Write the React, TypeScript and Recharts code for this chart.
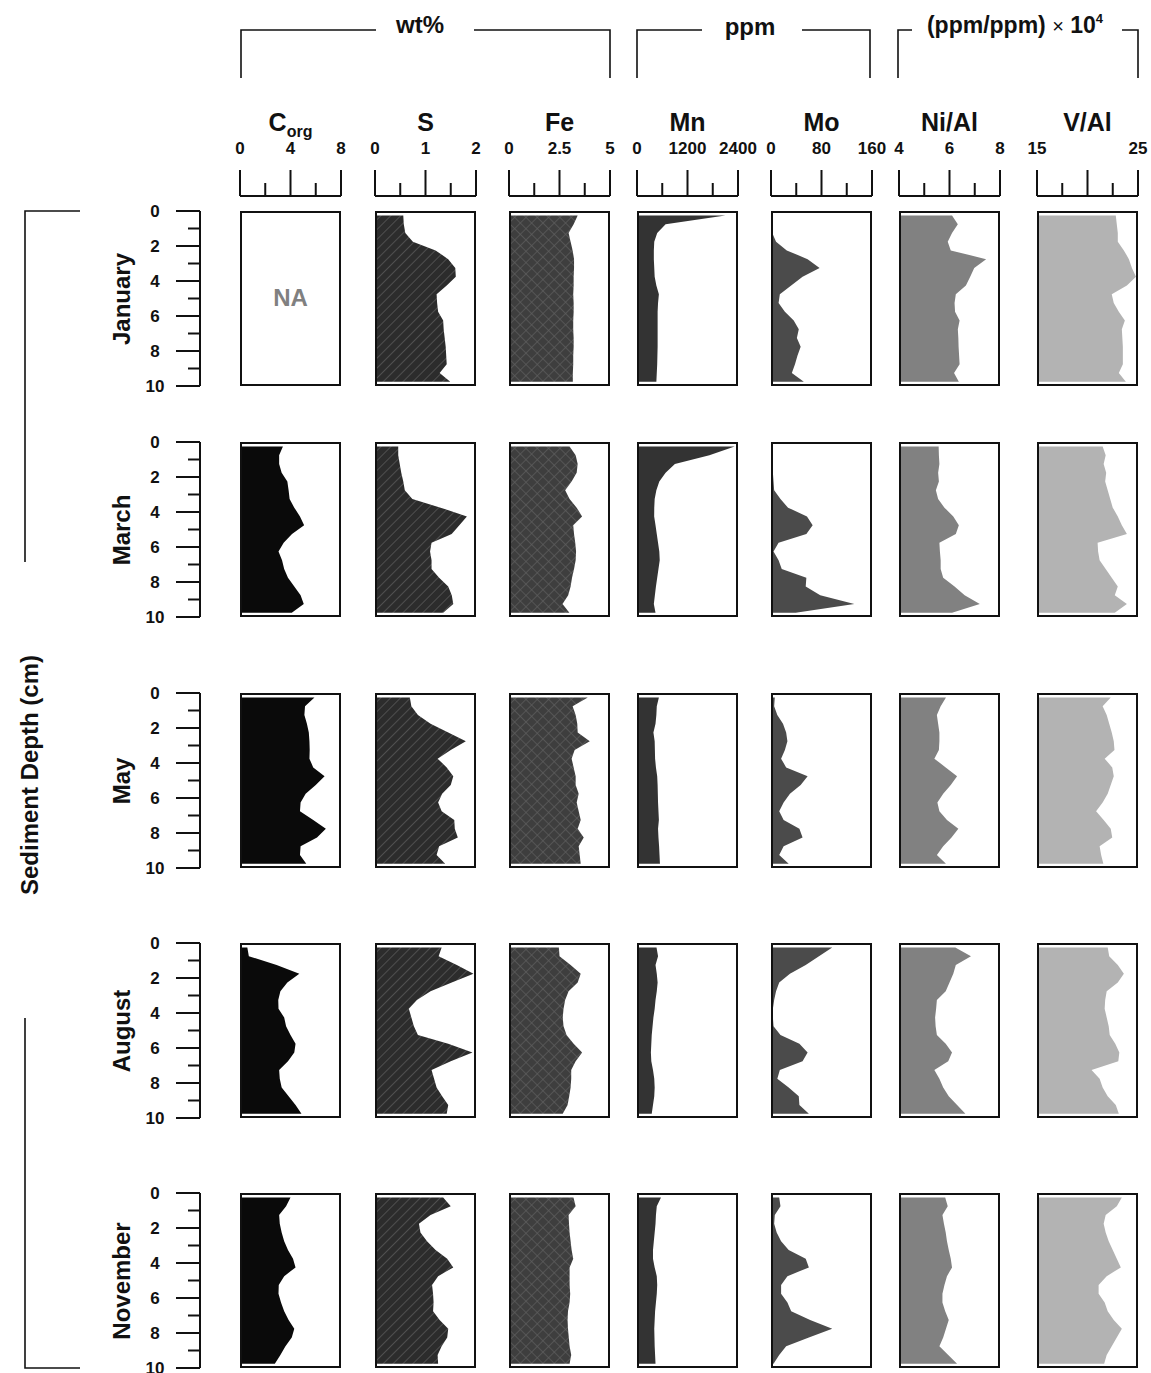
import React from 'react';
import { ComposedChart, Area, XAxis, YAxis } from 'recharts';

const FONT = "'Liberation Sans', Arial, Helvetica, sans-serif";

// sample depths (cm), shared by every profile
const DEPTHS = [0.25, 0.75, 1.25, 1.75, 2.25, 2.75, 3.25, 3.75, 4.25, 4.75, 5.25, 5.75, 6.25, 6.75, 7.25, 7.75, 8.25, 8.75, 9.25, 9.75];

const MONTHS = ['January', 'March', 'May', 'August', 'November'];

// Corg (wt%) - no January data
const corgMar = [3.4, 3.1, 3.1, 3.3, 3.75, 3.85, 3.93, 4.3, 4.75, 5.08, 4.12, 3.46, 3.05, 3.33, 3.5, 3.8, 4.3, 4.8, 5.05, 4.1];
const corgMay = [5.9, 5.15, 5.1, 5.3, 5.45, 5.5, 5.52, 5.5, 5.8, 6.7, 6.0, 5.2, 4.8, 4.75, 5.8, 6.8, 6.1, 4.8, 4.75, 5.25];
const corgAug = [0.58, 0.7, 2.9, 4.7, 3.75, 3.2, 3.03, 3.05, 3.5, 3.65, 4.0, 4.4, 4.3, 3.8, 3.1, 3.15, 3.3, 3.85, 4.4, 4.87];
const corgNov = [4.0, 3.65, 3.1, 3.15, 3.3, 3.5, 3.8, 4.2, 4.4, 3.5, 3.07, 3.05, 3.25, 3.5, 3.85, 4.3, 4.1, 3.6, 3.2, 2.76];

// S (wt%)
const sJan = [0.56, 0.57, 0.6, 0.75, 1.2, 1.45, 1.59, 1.6, 1.42, 1.22, 1.23, 1.25, 1.35, 1.36, 1.38, 1.4, 1.41, 1.42, 1.28, 1.49];
const sMar = [0.46, 0.46, 0.49, 0.52, 0.56, 0.59, 0.74, 1.3, 1.82, 1.67, 1.52, 1.12, 1.09, 1.12, 1.12, 1.27, 1.45, 1.52, 1.55, 1.35];
const sMay = [0.69, 0.72, 0.85, 1.1, 1.45, 1.8, 1.5, 1.24, 1.42, 1.55, 1.5, 1.33, 1.25, 1.32, 1.57, 1.58, 1.64, 1.27, 1.22, 1.39];
const sAug = [1.32, 1.26, 1.62, 1.95, 1.52, 1.1, 0.83, 0.67, 0.72, 0.77, 0.85, 1.45, 1.93, 1.5, 1.12, 1.17, 1.22, 1.33, 1.45, 1.42];
const sNov = [1.35, 1.5, 1.1, 0.87, 0.9, 1.03, 1.2, 1.43, 1.55, 1.25, 1.13, 1.15, 1.16, 1.15, 1.28, 1.45, 1.43, 1.32, 1.24, 1.25];

// Fe (wt%)
const feJan = [3.4, 3.2, 2.95, 3.05, 3.15, 3.22, 3.22, 3.2, 3.2, 3.18, 3.2, 3.2, 3.18, 3.18, 3.2, 3.2, 3.18, 3.18, 3.16, 3.16];
const feMar = [3.0, 3.3, 3.4, 3.35, 3.1, 2.78, 3.0, 3.35, 3.62, 3.18, 3.22, 3.28, 3.32, 3.3, 3.22, 3.12, 3.05, 2.93, 2.65, 2.99];
const feMay = [3.9, 3.15, 3.3, 3.38, 3.4, 4.0, 3.25, 3.1, 3.2, 3.3, 3.3, 3.45, 3.35, 3.45, 3.55, 3.4, 3.7, 3.45, 3.5, 3.55];
const feAug = [2.47, 2.5, 3.05, 3.55, 3.4, 2.95, 2.78, 2.7, 2.66, 2.7, 2.85, 3.2, 3.62, 3.3, 3.08, 3.08, 3.05, 2.98, 2.9, 2.66];
const feNov = [3.19, 3.3, 2.95, 2.97, 3.0, 3.05, 3.1, 3.18, 3.0, 3.0, 3.0, 3.03, 3.0, 2.92, 2.9, 2.92, 2.96, 3.0, 3.08, 3.0];

// Mn (ppm)
const mnJan = [2100, 680, 480, 410, 400, 400, 410, 420, 460, 520, 500, 490, 490, 490, 490, 490, 485, 480, 470, 460];
const mnMar = [2320, 1720, 900, 680, 530, 460, 420, 410, 408, 440, 470, 500, 530, 540, 510, 480, 450, 425, 400, 440];
const mnMay = [520, 470, 460, 440, 390, 420, 425, 430, 450, 480, 490, 495, 500, 510, 520, 500, 510, 525, 535, 545];
const mnAug = [464, 500, 440, 470, 490, 470, 440, 420, 390, 370, 350, 340, 330, 340, 380, 410, 420, 410, 380, 350];
const mnNov = [570, 470, 450, 440, 420, 400, 380, 380, 420, 470, 480, 470, 450, 430, 420, 410, 415, 420, 430, 440];

// Mo (ppm)
const moJan = [3, 2, 2, 8, 25, 58, 77, 50, 32, 14, 12, 22, 36, 44, 41, 47, 42, 38, 33, 52];
const moMar = [2, 2, 3, 3, 4, 5, 15, 27, 57, 66, 56, 12, 4, 12, 17, 56, 55, 78, 132, 39];
const moMay = [6, 5, 10, 19, 24, 26, 22, 16, 24, 58, 47, 30, 20, 13, 20, 45, 50, 20, 13, 28];
const moAug = [97, 76, 55, 30, 13, 8, 5, 3, 3, 4, 15, 45, 58, 50, 14, 10, 28, 44, 45, 60];
const moNov = [13, 15, 6, 5, 9, 16, 28, 55, 60, 26, 16, 16, 26, 32, 62, 97, 60, 24, 13, 4];

// Ni/Al ((ppm/ppm) x 10^4)
const niJan = [6.1, 6.33, 6.1, 5.93, 6.05, 7.45, 6.98, 6.82, 6.65, 6.25, 6.2, 6.22, 6.4, 6.33, 6.35, 6.36, 6.38, 6.4, 6.18, 6.37];
const niMar = [5.57, 5.58, 5.6, 5.55, 5.58, 5.46, 5.55, 5.8, 6.15, 6.37, 6.25, 5.6, 5.62, 5.65, 5.65, 5.75, 6.2, 6.6, 7.2, 6.1];
const niMay = [5.86, 5.65, 5.5, 5.55, 5.6, 5.6, 5.58, 5.4, 5.85, 6.3, 6.05, 5.75, 5.52, 5.6, 5.9, 6.35, 6.08, 5.75, 5.5, 5.86];
const niAug = [6.23, 6.85, 6.25, 6.15, 6.0, 5.85, 5.5, 5.47, 5.43, 5.45, 5.5, 5.85, 6.1, 5.95, 5.4, 5.6, 5.75, 5.97, 6.3, 6.63];
const niNov = [5.83, 5.93, 5.72, 5.78, 5.85, 5.9, 5.97, 6.05, 6.1, 5.9, 5.8, 5.72, 5.72, 5.83, 5.97, 5.86, 5.75, 5.6, 5.95, 6.3];

// V/Al ((ppm/ppm) x 10^4)
const vJan = [22.8, 22.9, 23.0, 23.0, 23.6, 24.1, 24.4, 24.8, 23.9, 22.4, 22.6, 23.1, 23.7, 23.4, 23.45, 23.5, 23.5, 23.5, 23.1, 23.8];
const vMar = [21.5, 21.8, 21.6, 21.85, 21.75, 22.0, 22.25, 22.5, 23.0, 23.4, 23.9, 21.0, 21.05, 21.2, 21.8, 22.4, 23.0, 22.7, 23.9, 22.7];
const vMay = [22.3, 21.5, 21.9, 22.15, 22.4, 22.6, 22.67, 21.7, 22.45, 22.6, 22.3, 22.0, 21.5, 20.85, 21.6, 22.3, 22.45, 21.2, 21.35, 21.57];
const vAug = [22.0, 22.15, 23.0, 23.6, 23.0, 21.9, 21.75, 21.7, 21.9, 22.1, 22.2, 22.75, 23.15, 23.05, 20.4, 21.2, 21.5, 22.0, 22.8, 23.1];
const vNov = [23.4, 22.9, 21.8, 21.6, 21.8, 22.1, 22.5, 22.9, 23.3, 21.9, 21.1, 21.1, 21.7, 22.0, 22.6, 23.4, 22.9, 22.4, 21.9, 21.65];

// header axis ticks / labels per column
const corgTicks = [0, 2, 4, 6, 8];
const corgLabels = [0, 4, 8];
const sTicks = [0, 0.5, 1, 1.5, 2];
const sLabels = [0, 1, 2];
const feTicks = [0, 1.25, 2.5, 3.75, 5];
const feLabels = [0, 2.5, 5];
const mnTicks = [0, 600, 1200, 1800, 2400];
const mnLabels = [0, 1200, 2400];
const moTicks = [0, 40, 80, 120, 160];
const moLabels = [0, 80, 160];
const niTicks = [4, 5, 6, 7, 8];
const niLabels = [4, 6, 8];
const vTicks = [15, 17.5, 20, 22.5, 25];
const vLabels = [15, 25];
const depthTicks = [0, 1, 2, 3, 4, 5, 6, 7, 8, 9, 10];

const COLUMNS = [
  { key: 'corg', title: 'C', sub: 'org', ticks: corgTicks, labels: corgLabels, series: [null, corgMar, corgMay, corgAug, corgNov], fill: '#0a0a0a' },
  { key: 's', title: 'S', ticks: sTicks, labels: sLabels, series: [sJan, sMar, sMay, sAug, sNov], fill: 'hatch' },
  { key: 'fe', title: 'Fe', ticks: feTicks, labels: feLabels, series: [feJan, feMar, feMay, feAug, feNov], fill: 'cross' },
  { key: 'mn', title: 'Mn', ticks: mnTicks, labels: mnLabels, series: [mnJan, mnMar, mnMay, mnAug, mnNov], fill: '#333333' },
  { key: 'mo', title: 'Mo', ticks: moTicks, labels: moLabels, series: [moJan, moMar, moMay, moAug, moNov], fill: '#4b4b4b' },
  { key: 'ni', title: 'Ni/Al', ticks: niTicks, labels: niLabels, series: [niJan, niMar, niMay, niAug, niNov], fill: '#818181' },
  { key: 'v', title: 'V/Al', ticks: vTicks, labels: vLabels, series: [vJan, vMar, vMay, vAug, vNov], fill: '#b3b3b3' },
];

const COL_LEFT = [240, 375, 509, 637, 771, 899, 1037];
const ROW_TOP = [211, 442, 693, 943, 1193];
const PW = 101;
const PH = 175;
const AXIS_Y = 196;

function HeaderTick(props: any) {
  const { x, y, payload, index, labels } = props;
  const major = index % 2 === 0;
  const showLabel = labels.includes(payload.value);
  return (
    <g>
      <line x1={x} x2={x} y1={y} y2={y - (major ? 26 : 13)} stroke="#111" strokeWidth={2} />
      {showLabel && (
        <text x={x} y={y - 48} textAnchor="middle" dominantBaseline="central" fontFamily={FONT} fontWeight="bold" fontSize={17} fill="#111">
          {payload.value}
        </text>
      )}
    </g>
  );
}

function DepthTick(props: any) {
  const { x, y, payload } = props;
  const major = payload.value % 2 === 0;
  return (
    <g>
      <line x1={x} x2={x - (major ? 24 : 12)} y1={y} y2={y} stroke="#111" strokeWidth={2} />
      {major && (
        <text x={x - 45} y={y} textAnchor="middle" dominantBaseline="central" fontFamily={FONT} fontWeight="bold" fontSize={17} fill="#111">
          {payload.value}
        </text>
      )}
    </g>
  );
}

function HeaderAxis({ col, ci }: any) {
  const pad = 30;
  const domain = [col.ticks[0], col.ticks[col.ticks.length - 1]];
  return (
    <div style={{ position: 'absolute', left: COL_LEFT[ci] - pad, top: AXIS_Y - 66 }}>
      <ComposedChart width={PW + 2 * pad} height={70} data={[{ v: domain[0] }]} margin={{ top: 6, right: pad, bottom: 0, left: pad }}>
        <XAxis
          orientation="top"
          type="number"
          dataKey="v"
          domain={domain}
          ticks={col.ticks}
          interval={0}
          height={60}
          tickSize={0}
          tickMargin={0}
          tickLine={false}
          axisLine={{ stroke: '#111', strokeWidth: 2 }}
          tick={<HeaderTick labels={col.labels} />}
        />
        <YAxis hide domain={[0, 1]} />
      </ComposedChart>
    </div>
  );
}

function DepthAxis({ ri }: any) {
  return (
    <div style={{ position: 'absolute', left: 110, top: ROW_TOP[ri] - 10 }}>
      <ComposedChart width={96} height={PH + 20} data={DEPTHS.map((d) => ({ d }))} margin={{ top: 10, right: 6, bottom: 10, left: 0 }}>
        <XAxis hide type="number" domain={[0, 1]} />
        <YAxis
          type="number"
          dataKey="d"
          domain={[0, 10]}
          reversed
          ticks={depthTicks}
          interval={0}
          width={90}
          tickSize={0}
          tickMargin={0}
          tickLine={false}
          axisLine={{ stroke: '#111', strokeWidth: 2 }}
          tick={<DepthTick />}
        />
      </ComposedChart>
    </div>
  );
}

function Panel({ col, ci, ri }: any) {
  const values = col.series[ri];
  const domain = [col.ticks[0], col.ticks[col.ticks.length - 1]];
  const data = DEPTHS.map((d, i) => ({ d, v: values ? values[i] : null }));
  const pid = `${col.key}-${ri}`;
  let fill = col.fill;
  if (col.fill === 'hatch') fill = `url(#hatch-${pid})`;
  if (col.fill === 'cross') fill = `url(#cross-${pid})`;
  return (
    <div style={{ position: 'absolute', left: COL_LEFT[ci], top: ROW_TOP[ri], width: PW, height: PH }}>
      <ComposedChart layout="vertical" width={PW} height={PH} data={data} margin={{ top: 0, right: 0, bottom: 0, left: 0 }}>
        <defs>
          <pattern id={`hatch-${pid}`} width={7} height={7} patternUnits="userSpaceOnUse" patternTransform="rotate(45)">
            <rect width={7} height={7} fill="#2c2c2c" />
            <line x1={0} y1={0} x2={0} y2={7} stroke="#585858" strokeWidth={1.6} />
          </pattern>
          <pattern id={`cross-${pid}`} width={8} height={8} patternUnits="userSpaceOnUse" patternTransform="rotate(45)">
            <rect width={8} height={8} fill="#3e3e3e" />
            <line x1={0} y1={0} x2={0} y2={8} stroke="#5e5e5e" strokeWidth={1.4} />
            <line x1={0} y1={0} x2={8} y2={0} stroke="#5e5e5e" strokeWidth={1.4} />
          </pattern>
        </defs>
        <XAxis type="number" domain={domain} hide />
        <YAxis type="number" dataKey="d" domain={[0, 10]} hide />
        {values && (
          <Area type="linear" dataKey="v" baseValue="dataMin" fill={fill} fillOpacity={1} stroke="none" isAnimationActive={false} />
        )}
      </ComposedChart>
      {!values && (
        <div style={{ position: 'absolute', left: 0, width: PW, top: 73, textAlign: 'center', fontFamily: FONT, fontWeight: 'bold', fontSize: 24, color: '#808080' }}>
          NA
        </div>
      )}
      <div style={{ position: 'absolute', left: 0, top: 0, width: PW, height: PH, border: '2px solid #111', boxSizing: 'border-box' }} />
    </div>
  );
}

const textBold = { position: 'absolute' as const, fontFamily: FONT, fontWeight: 'bold' as const, color: '#111', whiteSpace: 'nowrap' as const };

export default function App() {
  return (
    <div style={{ position: 'absolute', left: 0, top: 0, width: 1151, height: 1373, background: '#fff', fontFamily: FONT, overflow: 'hidden' }}>
      {/* unit brackets and side brackets */}
      <svg width={1151} height={1373} style={{ position: 'absolute', left: 0, top: 0 }}>
        <g stroke="#111" strokeWidth={1.6} fill="none">
          <polyline points="241,78 241,30 376,30" />
          <polyline points="474,30 610,30 610,78" />
          <polyline points="637,78 637,30 702,30" />
          <polyline points="802,30 870,30 870,78" />
          <polyline points="898,78 898,30 912,30" />
          <polyline points="1122,30 1138,30 1138,78" />
          <polyline points="80,211 25,211 25,562" />
          <polyline points="25,1018 25,1368 80,1368" />
        </g>
      </svg>
      <div style={{ ...textBold, left: 370, width: 100, top: 11, textAlign: 'center', fontSize: 24 }}>wt%</div>
      <div style={{ ...textBold, left: 700, width: 100, top: 13, textAlign: 'center', fontSize: 24 }}>ppm</div>
      <div style={{ ...textBold, left: 905, width: 220, top: 11, textAlign: 'center', fontSize: 23 }}>
        (ppm/ppm) <span style={{ fontWeight: 'normal', fontSize: 20 }}>×</span> 10<span style={{ fontSize: 13, verticalAlign: 10 }}>4</span>
      </div>

      {/* column titles */}
      {COLUMNS.map((col, ci) => (
        <div key={col.key} style={{ ...textBold, left: COL_LEFT[ci] - 10, width: PW + 20, top: 108, textAlign: 'center', fontSize: 25 }}>
          {col.title}
          {col.sub && <span style={{ fontSize: 16, position: 'relative', top: 6 }}>{col.sub}</span>}
        </div>
      ))}

      {COLUMNS.map((col, ci) => (
        <HeaderAxis key={`h-${col.key}`} col={col} ci={ci} />
      ))}

      {MONTHS.map((m, ri) => (
        <React.Fragment key={m}>
          <div
            style={{
              ...textBold,
              left: 122 - 100,
              width: 200,
              top: ROW_TOP[ri] + PH / 2 - 14,
              height: 28,
              lineHeight: '28px',
              textAlign: 'center',
              fontSize: 24,
              transform: 'rotate(-90deg)',
            }}
          >
            {m}
          </div>
          <DepthAxis ri={ri} />
          {COLUMNS.map((col, ci) => (
            <Panel key={`${col.key}-${m}`} col={col} ci={ci} ri={ri} />
          ))}
        </React.Fragment>
      ))}

      <div
        style={{
          ...textBold,
          left: 30 - 150,
          width: 300,
          top: 775 - 14,
          height: 28,
          lineHeight: '28px',
          textAlign: 'center',
          fontSize: 24,
          transform: 'rotate(-90deg)',
        }}
      >
        Sediment Depth (cm)
      </div>
    </div>
  );
}
